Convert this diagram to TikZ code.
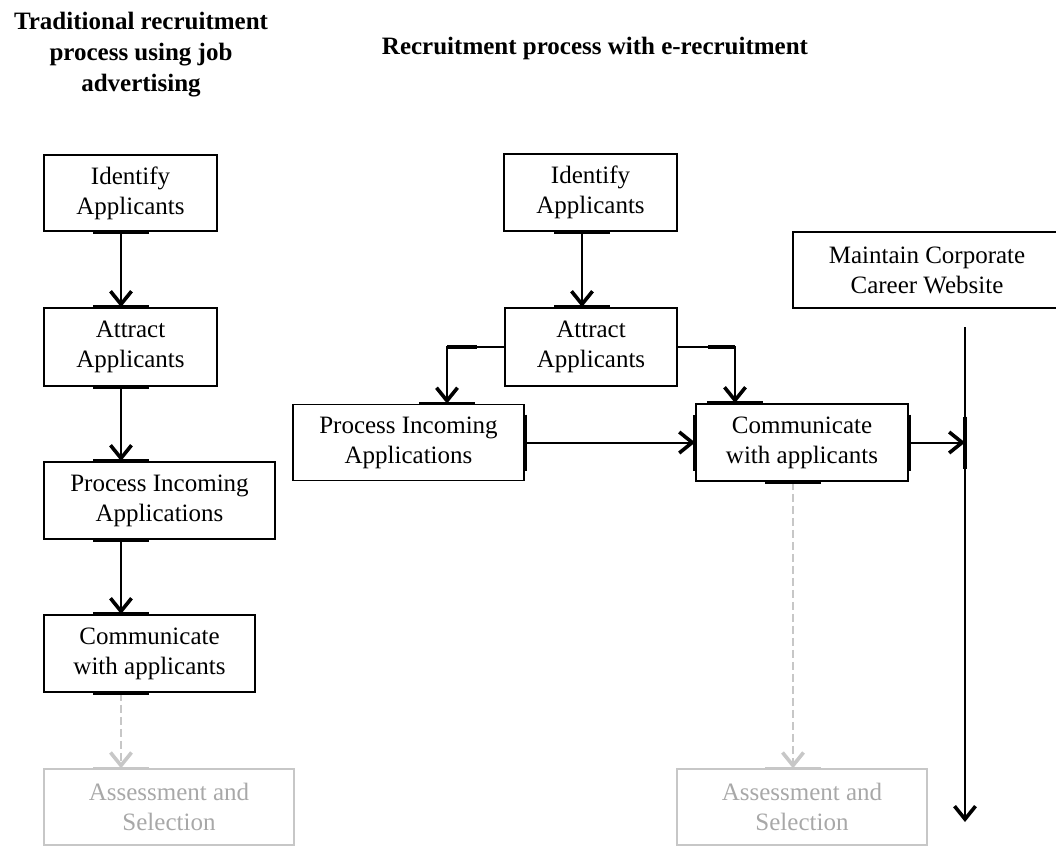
\documentclass[tikz,border=0pt]{standalone}
\usepackage{fontspec}
\setmainfont{Liberation Serif}
\usetikzlibrary{arrows.meta}
\definecolor{fadedline}{gray}{0.78}
\definecolor{fadedtext}{gray}{0.66}
\tikzset{
  stepbox/.style={draw, line width=1.8pt, inner sep=0pt, align=center, font=\fontsize{25}{30}\selectfont},
  faded/.style={stepbox, draw=fadedline, text=fadedtext, line width=1.3pt},
  title/.style={align=center, font=\fontsize{25}{31}\selectfont\bfseries},
  link/.style={line width=2pt, -{Straight Barb[length=13pt,width=21pt,line width=3.6pt]}},
  fadedlink/.style={link, draw=fadedline, dash pattern=on 8pt off 4pt},
  port/.style={line width=3.6pt}
}

\begin{document}
\begin{tikzpicture}[x=1pt, y=-1pt]
  \useasboundingbox (0,0) rectangle (1056,846);

  % headings
  \node[title] (tradtitle) at (141,55) {Traditional recruitment\\process using job\\advertising};
  \node[title] (etitle) at (595,48) {Recruitment process with e-recruitment};

  % traditional process
  \node[stepbox, minimum width=173, minimum height=76] (lIdent) at (130.5,193) {Identify\\Applicants};
  \node[stepbox, minimum width=173, minimum height=78] (lAttr) at (130.5,347) {Attract\\Applicants};
  \node[stepbox, minimum width=231, minimum height=77] (lProc) at (159.5,500.5) {Process Incoming\\Applications};
  \node[stepbox, minimum width=211, minimum height=77] (lComm) at (149.5,653.5) {Communicate\\with applicants};
  \node[faded, minimum width=250, minimum height=76] (lAss) at (169,807) {Assessment and\\Selection};

  % e-recruitment process
  \node[stepbox, minimum width=173, minimum height=77] (mIdent) at (590.5,192.5) {Identify\\Applicants};
  \node[stepbox, minimum width=172, minimum height=78] (mAttr) at (591,347) {Attract\\Applicants};
  \node[stepbox, minimum width=231, minimum height=76] (mProc) at (408.5,442.5) {Process Incoming\\Applications};
  \node[stepbox, minimum width=212, minimum height=77] (mComm) at (802,442.5) {Communicate\\with applicants};
  \node[faded, minimum width=250, minimum height=76] (mAss) at (802,807) {Assessment and\\Selection};
  \node[stepbox, minimum width=268, minimum height=76] (web) at (927,270) {Maintain Corporate\\Career Website};

  % where the connectors run
  \coordinate (lx) at (121,0);
  \coordinate (mx) at (582,0);
  \coordinate (px) at (447,0);
  \coordinate (cx) at (735,0);
  \coordinate (dx) at (793,0);
  \coordinate (btop) at (965,327);
  \coordinate (bbot) at (965,822);

  \draw[link] (lIdent.south -| lx) -- (lAttr.north -| lx);
  \draw[link] (lAttr.south -| lx) -- (lProc.north -| lx);
  \draw[link] (lProc.south -| lx) -- (lComm.north -| lx);
  \draw[fadedlink] (lComm.south -| lx) -- (lAss.north -| lx);

  \draw[link] (mIdent.south -| mx) -- (mAttr.north -| mx);
  \draw[link] (mAttr.west) -| (px |- mProc.north);
  \draw[link] (mAttr.east) -| (cx |- mComm.north);
  \draw[link] (mProc.east) -- (mComm.west);
  \draw[link] (btop) -- (bbot);
  \draw[link] (mComm.east) -- (mComm.east -| btop);
  \draw[fadedlink] (mComm.south -| dx) -- (mAss.north -| dx);

  % thick marks where connectors meet the boxes
  \foreach \a/\c in {lIdent.south/lx, lAttr.north/lx, lAttr.south/lx, lProc.north/lx,
                     lProc.south/lx, lComm.north/lx, lComm.south/lx,
                     mIdent.south/mx, mAttr.north/mx, mProc.north/px, mComm.north/cx, mComm.south/dx}
    \draw[port] (\a -| \c) ++(-28,0) -- ++(56,0);
  \foreach \a/\c in {lAss.north/lx, mAss.north/dx}
    \draw[port, fadedline] (\a -| \c) ++(-28,0) -- ++(56,0);
  \foreach \a in {mProc.east, mComm.west, mComm.east}
    \draw[port] (\a) ++(0,-28) -- ++(0,56);
  \draw[port] (mComm.east -| btop) ++(0,-26) -- ++(0,52);
  \draw[port] (px |- mAttr.west) -- ++(30,0);
  \draw[port] (cx |- mAttr.east) -- ++(-27,0);
\end{tikzpicture}
\end{document}
